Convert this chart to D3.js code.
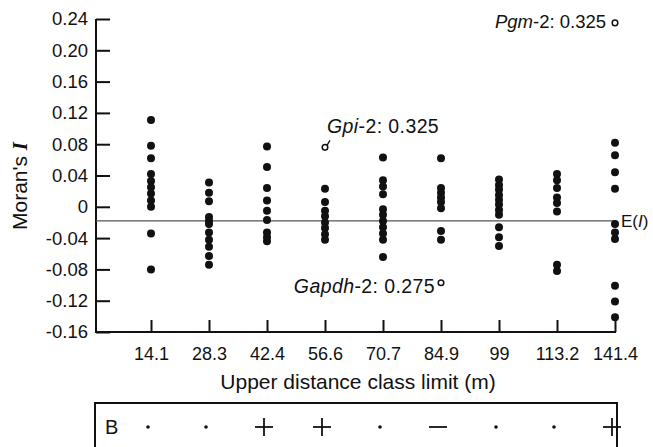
<!DOCTYPE html>
<html>
<head>
<meta charset="utf-8">
<script src="https://cdn.jsdelivr.net/npm/d3@7"></script>
<style>
  body { margin: 0; background: #fff; }
  text { font-family: "Liberation Sans", Arial, sans-serif; fill: #111; }
</style>
</head>
<body>
<svg id="chart" width="653" height="447"></svg>
<script>

// Section for Data

var categories = ["14.1", "28.3", "42.4", "56.6", "70.7", "84.9", "99", "113.2", "141.4"];

var yTickValues = [0.24, 0.20, 0.16, 0.12, 0.08, 0.04, 0, -0.04, -0.08, -0.12, -0.16];
var yTickLabels = ["0.24", "0.20", "0.16", "0.12", "0.08", "0.04", "0", "-0.04", "-0.08", "-0.12", "-0.16"];

// Moran's I of each locus, per distance class
var moran14 = [0.111, 0.078, 0.062, 0.042, 0.033, 0.025, 0.017, 0.008, 0.0, -0.034, -0.080];
var moran28 = [0.031, 0.018, 0.007, -0.013, -0.018, -0.022, -0.033, -0.042, -0.051, -0.063, -0.074];
var moran42 = [0.077, 0.051, 0.024, 0.008, -0.005, -0.017, -0.033, -0.039, -0.044];
var moran56 = [0.023, 0.006, -0.005, -0.012, -0.020, -0.027, -0.035, -0.042];
var moran70 = [0.063, 0.034, 0.026, 0.016, -0.003, -0.010, -0.018, -0.026, -0.034, -0.042, -0.064];
var moran84 = [0.062, 0.024, 0.018, 0.012, 0.006, -0.002, -0.031, -0.042];
var moran99 = [0.035, 0.028, 0.022, 0.015, 0.009, 0.003, -0.004, -0.010, -0.026, -0.039, -0.050];
var moran113 = [0.042, 0.034, 0.024, 0.012, 0.005, -0.006, -0.074, -0.082];
var moran141 = [0.082, 0.066, 0.044, 0.023, -0.022, -0.033, -0.041, -0.101, -0.121, -0.141];

var moranByClass = [moran14, moran28, moran42, moran56, moran70, moran84, moran99, moran113, moran141];

// expected value E(I)
var expectedI = -0.018;

// off-scale values: class, plotted position, locus name, true value
var outlierClass = ["56.6", "84.9", "141.4"];
var outlierPlotted = [0.076, -0.097, 0.235];
var outlierLocus = ["Gpi", "Gapdh", "Pgm"];
var outlierValue = ["0.325", "0.275", "0.325"];

// Bonferroni row signs
var bonferroni = [".", ".", "+", "+", ".", "-", ".", ".", "+"];

// Section for the chart

var svg = d3.select("#chart");

var x = d3.scalePoint()
    .domain(categories)
    .range([151, 615]);

var y = d3.scaleLinear()
    .domain([-0.16, 0.24])
    .range([332, 19]);

var axisLeftX = 96;

// y axis with inner ticks
var yAxis = svg.append("g")
    .attr("transform", "translate(" + axisLeftX + ",0)")
    .call(d3.axisLeft(y)
        .tickValues(yTickValues)
        .tickSize(-14)
        .tickPadding(8)
        .tickFormat(function (d, i) { return yTickLabels[i]; }));

yAxis.select(".domain").remove();
yAxis.selectAll(".tick line").attr("stroke", "#111").attr("stroke-width", 2);
yAxis.selectAll(".tick text")
    .attr("font-size", 18.5)
    .attr("font-family", "Liberation Sans, Arial, sans-serif")
    .attr("fill", "#111");

svg.append("line")
    .attr("x1", axisLeftX).attr("x2", axisLeftX)
    .attr("y1", y(0.24)).attr("y2", y(-0.16) + 1)
    .attr("stroke", "#111").attr("stroke-width", 2);

// x axis with inner ticks
var xAxis = svg.append("g")
    .attr("transform", "translate(0," + y(-0.16) + ")")
    .call(d3.axisBottom(x)
        .tickSize(-12)
        .tickPadding(15));

xAxis.select(".domain").remove();
xAxis.selectAll(".tick line").attr("stroke", "#111").attr("stroke-width", 2);
xAxis.selectAll(".tick text")
    .attr("font-size", 18)
    .attr("font-family", "Liberation Sans, Arial, sans-serif")
    .attr("fill", "#111");

svg.append("line")
    .attr("x1", axisLeftX).attr("x2", x("141.4") + 1)
    .attr("y1", y(-0.16)).attr("y2", y(-0.16))
    .attr("stroke", "#111").attr("stroke-width", 2);

// axis titles
svg.append("text")
    .attr("x", 358)
    .attr("y", 389)
    .attr("text-anchor", "middle")
    .attr("font-size", 21)
    .text("Upper distance class limit (m)");

var yTitle = svg.append("text")
    .attr("transform", "translate(27,186) rotate(-90)")
    .attr("text-anchor", "middle")
    .attr("font-size", 21);
yTitle.append("tspan").text("Moran's ");
yTitle.append("tspan")
    .attr("font-family", "Liberation Serif, Times New Roman, serif")
    .attr("font-style", "italic")
    .attr("font-weight", "bold")
    .text("I");

// E(I) line
svg.append("line")
    .attr("x1", axisLeftX).attr("x2", x("141.4"))
    .attr("y1", y(expectedI)).attr("y2", y(expectedI))
    .attr("stroke", "#555").attr("stroke-width", 1.3);

var eLabel = svg.append("text")
    .attr("x", x("141.4") + 6)
    .attr("y", y(expectedI) + 6)
    .attr("font-size", 17);
eLabel.append("tspan").text("E(");
eLabel.append("tspan").attr("font-style", "italic").text("I");
eLabel.append("tspan").text(")");

// dots
var points = [];
moranByClass.forEach(function (vals, i) {
    vals.forEach(function (v) { points.push({ cat: categories[i], v: v }); });
});

svg.selectAll("circle.dot")
    .data(points)
    .enter().append("circle")
    .attr("class", "dot")
    .attr("cx", function (d) { return x(d.cat); })
    .attr("cy", function (d) { return y(d.v); })
    .attr("r", 4)
    .attr("fill", "#111");

// outliers (hollow) and their labels
var outliers = outlierClass.map(function (c, i) {
    return { cat: c, v: outlierPlotted[i], locus: outlierLocus[i], value: outlierValue[i] };
});

svg.selectAll("circle.out")
    .data(outliers)
    .enter().append("circle")
    .attr("class", "out")
    .attr("cx", function (d) { return x(d.cat); })
    .attr("cy", function (d) { return y(d.v); })
    .attr("r", 2.8)
    .attr("fill", "none")
    .attr("stroke", "#111")
    .attr("stroke-width", 1.5);

// Gpi-2 label sits above right, with a small leader
var gpi = outliers[0];
svg.append("line")
    .attr("x1", x(gpi.cat) + 2).attr("y1", y(gpi.v) - 2)
    .attr("x2", x(gpi.cat) + 5).attr("y2", y(gpi.v) - 7)
    .attr("stroke", "#111").attr("stroke-width", 1.3);

function outlierText(sel, d) {
    sel.append("tspan").attr("font-style", "italic").text(d.locus);
    sel.append("tspan").text("-2: " + d.value);
}

var gpiText = svg.append("text")
    .attr("x", x(gpi.cat) + 2)
    .attr("y", y(gpi.v) - 14)
    .attr("font-size", 19.5)
    .attr("letter-spacing", 0.4);
outlierText(gpiText, gpi);

var gap = outliers[1];
var gapText = svg.append("text")
    .attr("x", x(gap.cat) - 6)
    .attr("y", y(gap.v) + 10)
    .attr("text-anchor", "end")
    .attr("font-size", 19.5)
    .attr("letter-spacing", 0.4);
outlierText(gapText, gap);

var pgm = outliers[2];
var pgmText = svg.append("text")
    .attr("x", x(pgm.cat) - 9)
    .attr("y", y(pgm.v) + 5)
    .attr("text-anchor", "end")
    .attr("font-size", 18.5);
outlierText(pgmText, pgm);

// Bonferroni box
var boxTop = 403;
var rowY = 427;

svg.append("rect")
    .attr("x", 95)
    .attr("y", boxTop)
    .attr("width", 522)
    .attr("height", 60)
    .attr("fill", "none")
    .attr("stroke", "#111")
    .attr("stroke-width", 2);

svg.append("text")
    .attr("x", 105)
    .attr("y", rowY + 7)
    .attr("font-size", 20)
    .text("B");

var signs = svg.selectAll("g.sign")
    .data(bonferroni)
    .enter().append("g")
    .attr("class", "sign")
    .attr("transform", function (d, i) { return "translate(" + (x(categories[i]) - 3) + "," + rowY + ")"; });

signs.filter(function (d) { return d === "."; })
    .append("circle")
    .attr("r", 1.8)
    .attr("fill", "#111");

signs.filter(function (d) { return d === "+" || d === "-"; })
    .append("line")
    .attr("x1", -9).attr("x2", 9)
    .attr("y1", 0).attr("y2", 0)
    .attr("stroke", "#111").attr("stroke-width", 1.8);

signs.filter(function (d) { return d === "+"; })
    .append("line")
    .attr("x1", 0).attr("x2", 0)
    .attr("y1", -9).attr("y2", 9)
    .attr("stroke", "#111").attr("stroke-width", 1.8);

</script>
</body>
</html>
